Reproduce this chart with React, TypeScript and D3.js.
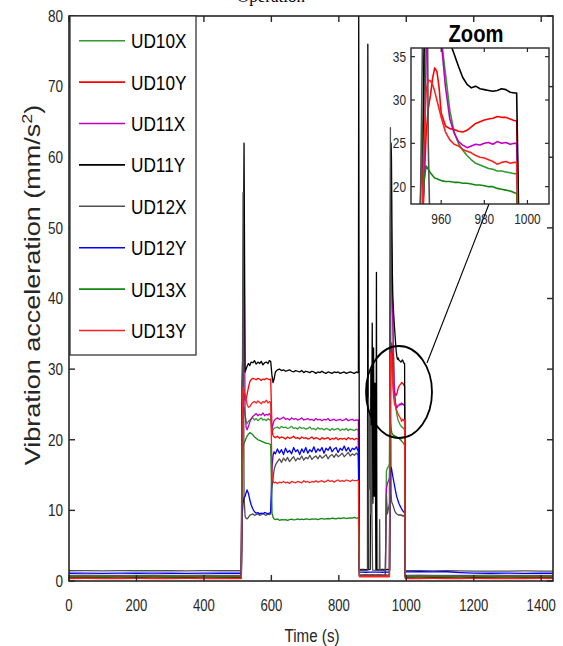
import React from 'react';
import * as d3 from 'd3';

// Shared sample times (s) for each operating phase
const T_IDLE_A = [0, 50, 100, 150, 200, 250, 300, 350, 400, 450, 500, 511];
const T_P1 = [513, 516, 519, 522, 525, 528, 532, 536, 540, 545, 550, 555, 560, 565, 570, 575, 580, 585, 590, 594, 598];
const T_P2 = [602, 605, 608, 612, 618, 624, 630, 636, 642, 648, 654, 660, 666, 672, 678, 684, 690, 696, 702, 708, 714, 720, 726, 732, 738, 744, 750, 756, 762, 768, 774, 780, 786, 792, 798, 804, 810, 816, 822, 828, 834, 840, 846, 852, 856, 858];
const T_GAP = [861, 870, 880, 890, 900, 910, 920, 930, 938];
const T_GAP_K = [859, 861, 870, 880, 885, 886, 887.5, 893, 895, 897, 899, 901, 903, 905, 907, 909, 910, 911.5, 913, 920, 930, 938];
const T_GAP_G = [861, 870, 880, 886, 888, 890, 892, 894, 896, 898, 900, 915, 920, 921, 922, 930, 938];
const T_P3 = [941, 944, 947, 950, 951, 952, 953, 954, 955, 956, 957, 958, 959, 960, 962, 964, 966, 968, 970, 972, 974, 976, 978, 980, 982, 984, 986, 988, 990, 992, 994, 995];
const T_IDLE_B = [997, 1040, 1080, 1120, 1160, 1200, 1250, 1300, 1350, 1400, 1435];
const PHASE_TIMES = [T_IDLE_A, T_P1, T_P2, T_GAP, T_P3, T_IDLE_B];

// Axis ticks
const X_TICKS = [0, 200, 400, 600, 800, 1000, 1200, 1400];
const Y_TICKS = [0, 10, 20, 30, 40, 50, 60, 70, 80];
const ZOOM_X_TICKS = [960, 980, 1000];
const ZOOM_Y_TICKS = [20, 25, 30, 35];

// Vibration acceleration (mm/s^2) per phase: idle, run 1, run 2, stop, run 3, idle
const UD10X = [
  [0.8, 0.82, 0.79, 0.81, 0.8, 0.83, 0.8, 0.79, 0.82, 0.8, 0.81, 0.8],
  [18.0, 24.0, 24.6, 23.5, 22.6, 22.3, 22.6, 22.8, 22.9, 23.1, 22.8, 23.0, 22.7, 22.9, 23.1, 22.8, 22.9, 22.7, 23.0, 22.8, 22.9],
  [21.0, 21.4, 21.6, 21.7, 21.8, 21.6, 21.9, 21.7, 21.8, 21.6,
   21.7, 21.9, 21.6, 21.7, 21.5, 21.8, 21.6, 21.7, 21.5, 21.6,
   21.8, 21.5, 21.6, 21.4, 21.7, 21.5, 21.6, 21.4, 21.6, 21.5,
   21.3, 21.6, 21.4, 21.5, 21.6, 21.3, 21.5, 21.4, 21.6, 21.3,
   21.5, 21.4, 21.3, 21.5, 21.4, 21.4],
  [0.9, 0.85, 0.9, 0.88, 0.9, 0.86, 0.9, 0.88, 0.9],
  [15.5, 16.0, 16.2, 16.5, 22.0, 32.0, 42.0, 48.0, 52.6, 50.0,
   46.0, 42.0, 39.0, 37.2, 33.0, 28.8, 26.3, 25.0, 24.2, 23.6,
   23.1, 22.7, 22.5, 22.3, 22.1, 22.0, 21.8, 21.8, 21.7, 21.6,
   21.5, 21.5],
  [0.8, 0.82, 0.8, 0.79, 0.81, 0.8, 0.82, 0.8, 0.79, 0.81, 0.8],
];

const UD10Y = [
  [0.45, 0.46, 0.44, 0.45, 0.47, 0.45, 0.44, 0.46, 0.45, 0.44, 0.46, 0.45],
  [24.0, 26.5, 27.0, 25.6, 25.8, 26.4, 27.4, 28.2, 28.5, 28.7, 28.6, 28.5, 28.7, 28.6, 28.4, 28.6, 28.5, 28.7, 28.6, 28.5, 28.6],
  [21.2, 20.6, 20.4, 20.3, 20.5, 20.2, 20.4, 20.3, 20.1, 20.4,
   20.2, 20.3, 20.5, 20.2, 20.3, 20.1, 20.4, 20.2, 20.3, 20.1,
   20.2, 20.4, 20.1, 20.3, 20.2, 20.0, 20.3, 20.1, 20.2, 20.3,
   20.0, 20.2, 20.1, 20.3, 20.0, 20.2, 20.1, 20.2, 20.0, 20.3,
   20.1, 20.2, 20.0, 20.2, 20.1, 20.1],
  [0.85, 0.83, 0.86, 0.84, 0.85, 0.83, 0.86, 0.84, 0.85],
  [0.85, 0.84, 0.86, 0.85, 12.0, 20.0, 26.0, 29.0, 30.5, 32.5,
   33.7, 33.3, 31.5, 28.5, 27.0, 26.7, 26.6, 26.4, 26.3, 26.5,
   26.9, 27.3, 27.5, 27.7, 27.8, 27.9, 28.1, 28.0, 28.0, 27.8,
   27.6, 27.6],
  [0.45, 0.44, 0.46, 0.45, 0.44, 0.46, 0.45, 0.44, 0.45, 0.46, 0.45],
];

const UD11X = [
  [0.7, 0.72, 0.69, 0.71, 0.7, 0.72, 0.7, 0.69, 0.71, 0.7, 0.72, 0.7],
  [20.0, 30.0, 50.0, 24.0, 21.8, 21.4, 21.9, 22.5, 23.0, 23.3, 23.5, 23.7, 23.4, 23.6, 23.5, 23.8, 23.4, 23.6, 23.5, 23.7, 23.4],
  [21.6, 22.2, 22.7, 22.9, 23.1, 22.9, 23.0, 23.2, 22.9, 23.0,
   22.8, 23.1, 22.9, 23.0, 22.8, 22.9, 23.1, 22.8, 22.9, 23.0,
   22.8, 22.9, 22.7, 23.0, 22.8, 22.9, 22.7, 22.9, 22.8, 23.0,
   22.7, 22.8, 22.9, 22.7, 22.8, 22.9, 22.7, 22.8, 23.0, 22.7,
   22.8, 22.9, 22.7, 22.8, 22.8, 22.8],
  [0.75, 0.74, 0.76, 0.75, 0.74, 0.76, 0.75, 0.74, 0.75],
  [13.0, 13.8, 14.2, 14.5, 16.0, 20.0, 35.0, 45.0, 49.3, 48.0,
   44.0, 40.5, 38.0, 36.8, 31.5, 27.8, 26.2, 25.2, 24.8, 24.5,
   24.7, 24.9, 24.8, 25.0, 25.1, 24.9, 25.2, 25.0, 25.1, 24.9,
   25.0, 25.0],
  [0.7, 0.71, 0.69, 0.7, 0.72, 0.7, 0.69, 0.71, 0.7, 0.72, 0.7],
];

const UD11Y = [
  [0.6, 0.62, 0.59, 0.61, 0.6, 0.62, 0.6, 0.59, 0.61, 0.6, 0.62, 0.6],
  [28.0, 33.5, 62.0, 29.6, 30.0, 30.4, 30.8, 30.5, 31.0, 30.9, 31.2, 30.7, 31.0, 30.8, 31.1, 30.6, 30.9, 31.0, 30.8, 31.2, 31.1],
  [29.0, 28.1, 28.6, 29.6, 29.9, 30.0, 29.8, 29.9, 29.7, 29.8,
   29.9, 29.7, 29.6, 29.8, 29.7, 29.6, 29.8, 29.5, 29.7, 29.6,
   29.5, 29.7, 29.6, 29.4, 29.6, 29.5, 29.7, 29.5, 29.4, 29.6,
   29.5, 29.4, 29.6, 29.5, 29.6, 29.4, 29.5, 29.6, 29.4, 29.5,
   29.6, 29.5, 29.4, 29.6, 29.5, 29.5],
  [80, 1.6, 1.65, 1.6, 1.65, 76, 1.6, 1.65, 30, 11.5, 36.5, 11, 33, 12, 28, 10.8, 1.6, 43.7, 1.65, 1.6, 1.65, 1.6],
  [1.6, 1.65, 1.6, 1.65, 1.6, 35.0, 50.0, 58.0, 62.0, 60.0,
   54.0, 47.0, 43.0, 40.5, 38.3, 36.7, 35.3, 33.9, 32.6, 31.8,
   31.4, 31.6, 31.3, 31.2, 31.1, 31.0, 31.1, 31.3, 31.2, 30.9,
   30.8, 30.8],
  [0.6, 0.61, 0.59, 0.6, 0.62, 0.6, 0.59, 0.61, 0.6, 0.62, 0.6],
];

const UD12X = [
  [1.45, 1.47, 1.44, 1.46, 1.45, 1.48, 1.45, 1.44, 1.46, 1.45, 1.47, 1.45],
  [10.0, 55.0, 12.0, 9.2, 8.9, 8.8, 9.0, 9.3, 9.4, 9.5, 9.3, 9.4, 9.5, 9.3, 9.4, 9.6, 9.4, 9.3, 9.5, 9.4, 9.5],
  [13.2, 14.6, 15.7, 16.4, 16.9, 17.3, 16.8, 17.4, 17.0, 17.5,
   16.9, 17.3, 17.6, 17.0, 17.4, 17.2, 17.7, 17.1, 17.5, 17.3,
   17.8, 17.2, 17.5, 17.7, 17.3, 17.8, 17.4, 17.6, 17.9, 17.3,
   17.7, 17.9, 17.5, 18.0, 17.6, 17.8, 18.1, 17.6, 17.9, 18.2,
   17.7, 18.0, 17.8, 18.1, 17.9, 18.0],
  [1.5, 1.55, 1.5, 1.55, 26, 13, 24, 9.5, 22, 10, 1.55, 1.5, 1.55, 8.7, 1.5, 1.55, 1.5],
  [12.3, 9.5, 10.2, 11.0, 30.0, 52.0, 64.2, 25.0, 12.5, 11.5,
   11.2, 11.0, 10.9, 10.8, 10.5, 10.2, 9.9, 9.7, 9.6, 9.5,
   9.4, 9.4, 9.3, 9.4, 9.3, 9.4, 9.3, 9.2, 9.3, 9.2,
   9.3, 9.3],
  [1.45, 1.46, 1.44, 1.45, 1.42, 1.4, 1.41, 1.4, 1.42, 1.41, 1.4],
];

const UD12Y = [
  [1.1, 1.12, 1.09, 1.11, 1.1, 1.12, 1.1, 1.09, 1.11, 1.1, 1.12, 1.1],
  [9.0, 11.0, 11.8, 12.0, 12.5, 12.9, 12.4, 11.5, 10.8, 10.2, 9.8, 9.6, 9.7, 9.5, 9.6, 9.5, 9.7, 9.6, 9.5, 9.6, 9.7],
  [16.2, 17.8, 18.3, 18.0, 18.7, 18.1, 18.6, 17.9, 18.8, 18.2,
   18.5, 18.0, 18.9, 18.3, 18.6, 17.9, 18.7, 18.2, 18.9, 18.1,
   18.6, 18.3, 19.0, 18.2, 18.7, 18.4, 18.9, 18.1, 18.8, 18.5,
   19.0, 18.3, 18.7, 18.9, 18.2, 18.8, 18.5, 19.1, 18.4, 18.9,
   18.3, 18.8, 18.6, 19.0, 18.5, 18.7],
  [1.25, 1.27, 1.24, 1.26, 1.25, 1.27, 1.25, 1.24, 1.26],
  [1.25, 1.26, 1.25, 1.27, 9.0, 13.0, 15.0, 15.8, 16.1, 16.0,
   15.7, 15.4, 15.1, 14.8, 14.3, 13.8, 13.3, 12.8, 12.3, 11.9,
   11.6, 11.3, 11.0, 10.8, 10.6, 10.4, 10.2, 10.1, 9.9, 9.8,
   9.7, 9.7],
  [1.3, 1.32, 1.29, 1.31, 1.2, 1.12, 1.1, 1.11, 1.09, 1.1, 1.1],
];

const UD13X = [
  [0.65, 0.66, 0.64, 0.65, 0.67, 0.65, 0.64, 0.66, 0.65, 0.64, 0.66, 0.65],
  [15.0, 19.0, 19.6, 19.8, 20.2, 20.5, 20.8, 21.0, 20.9, 20.7, 20.4, 20.2, 20.0, 19.9, 19.8, 19.7, 19.6, 19.5, 19.5, 19.4, 19.3],
  [9.6, 9.0, 8.8, 8.7, 8.8, 8.6, 8.7, 8.65, 8.7, 8.6,
   8.7, 8.75, 8.65, 8.7, 8.8, 8.7, 8.75, 8.7, 8.8, 8.75,
   8.7, 8.8, 8.75, 8.8, 8.7, 8.8, 8.85, 8.75, 8.8, 8.85,
   8.8, 8.9, 8.85, 8.8, 8.9, 8.85, 8.9, 8.95, 8.85, 8.9,
   8.95, 8.9, 9.0, 8.9, 8.95, 9.0],
  [0.7, 0.72, 0.69, 0.71, 0.7, 0.72, 0.7, 0.69, 0.71],
  [0.7, 0.71, 0.7, 0.72, 14.0, 20.5, 22.4, 22.0, 21.6, 21.3,
   21.0, 20.9, 20.8, 20.7, 20.6, 20.6, 20.5, 20.5, 20.4, 20.4,
   20.3, 20.2, 20.2, 20.1, 20.0, 20.0, 19.8, 19.7, 19.6, 19.5,
   19.3, 19.2],
  [0.65, 0.64, 0.66, 0.65, 0.64, 0.66, 0.65, 0.64, 0.65, 0.66, 0.65],
];

const UD13Y = [
  [0.35, 0.36, 0.34, 0.35, 0.37, 0.35, 0.34, 0.36, 0.35, 0.34, 0.36, 0.35],
  [22.0, 27.5, 26.8, 26.5, 25.8, 25.0, 24.6, 24.7, 25.0, 25.3, 25.4, 25.2, 25.5, 25.3, 25.1, 25.4, 25.3, 25.6, 25.2, 25.4, 25.3],
  [15.0, 14.1, 13.9, 14.0, 13.8, 14.0, 13.9, 14.1, 13.9, 14.0,
   13.8, 14.1, 14.0, 13.9, 14.1, 14.0, 13.9, 14.2, 14.0, 14.1,
   13.9, 14.1, 14.0, 14.2, 14.0, 14.1, 14.2, 14.0, 14.1, 14.3,
   14.1, 14.2, 14.0, 14.2, 14.3, 14.1, 14.2, 14.1, 14.3, 14.2,
   14.1, 14.3, 14.2, 14.2, 14.3, 14.2],
  [0.6, 0.62, 0.59, 0.61, 0.6, 0.62, 0.6, 0.59, 0.61],
  [0.6, 0.61, 0.6, 0.62, 15.0, 25.0, 31.0, 32.3, 32.2, 31.8,
   31.0, 30.0, 29.0, 28.0, 26.3, 25.4, 24.9, 24.7, 24.3, 24.1,
   23.9, 23.6, 23.4, 23.3, 23.1, 22.9, 22.6, 22.8, 22.9, 22.7,
   22.8, 22.8],
  [0.35, 0.34, 0.36, 0.35, 0.34, 0.36, 0.35, 0.34, 0.35, 0.36, 0.35],
];

const SERIES_NAMES = ['UD10X', 'UD10Y', 'UD11X', 'UD11Y', 'UD12X', 'UD12Y', 'UD13X', 'UD13Y'];
const SERIES_VALUES = [UD10X, UD10Y, UD11X, UD11Y, UD12X, UD12Y, UD13X, UD13Y];
const SERIES_GAP_TIMES = [T_GAP, T_GAP, T_GAP, T_GAP_K, T_GAP_G, T_GAP, T_GAP, T_GAP];
const SERIES_COLORS = ['#2f9a2f', '#ff0000', '#c000c0', '#000000', '#505050', '#0000ff', '#138613', '#ff2020'];

function toPoints(segments: number[][], gapTimes: number[]): [number, number][] {
  const pts: [number, number][] = [];
  segments.forEach((vals, i) => {
    const ts = i === 3 ? gapTimes : PHASE_TIMES[i];
    const n = Math.min(ts.length, vals.length);
    for (let j = 0; j < n; j++) pts.push([ts[j], vals[j]]);
  });
  return pts;
}

const W = 563;
const H = 646;
const FONT = 'Liberation Sans, Arial, Helvetica, sans-serif';
const NARROW = 0.82;
const AXIS_COLOR = '#262626';

// Main plot box
const PL = 69, PR = 553, PT = 16, PB = 581;
// Zoom inset box
const ZL = 411, ZR = 549, ZT = 48, ZB = 204;

export default function App() {
  const x = d3.scaleLinear().domain([0, 1435]).range([PL, PR]);
  const y = d3.scaleLinear().domain([0, 80]).range([PB, PT]);
  const xz = d3.scaleLinear().domain([946, 1010]).range([ZL, ZR]);
  const yz = d3.scaleLinear().domain([18, 36]).range([ZB, ZT]);

  const data = SERIES_NAMES.map((name, i) => ({
    name,
    color: SERIES_COLORS[i],
    points: toPoints(SERIES_VALUES[i], SERIES_GAP_TIMES[i]),
  }));

  const mainLine = d3.line<[number, number]>().x((d) => x(d[0])).y((d) => y(d[1]));
  const zoomLine = d3.line<[number, number]>().x((d) => xz(d[0])).y((d) => yz(d[1]));

  const tick = 6;
  const narrowText = (tx: number, ty: number, s = NARROW) => `translate(${tx},${ty}) scale(${s},1)`;

  const legendTop = 16;
  const legendRowY = (i: number) => 40.7 + i * 41.4;

  return (
    <svg width={W} height={H} style={{ position: 'absolute', left: 0, top: 0, background: '#fff' }}>
      <defs>
        <clipPath id="plotClip">
          <rect x={PL} y={PT} width={PR - PL} height={PB - PT} />
        </clipPath>
        <clipPath id="zoomClip">
          <rect x={ZL} y={ZT} width={ZR - ZL} height={ZB - ZT} />
        </clipPath>
      </defs>
      <rect x={0} y={0} width={W} height={H} fill="#fff" />

      {/* title, mostly above the page edge */}
      <text x={237} y={2} fontFamily="Liberation Serif, Times New Roman, serif" fontSize={17} fill="#000">
        Operation
      </text>

      {/* data lines */}
      <g clipPath="url(#plotClip)">
        {data.map((s) => (
          <path key={s.name} d={mainLine(s.points) || ''} fill="none" stroke={s.color} strokeWidth={1.3} strokeLinejoin="round" />
        ))}
      </g>

      {/* axes box and ticks */}
      <rect x={PL} y={PT} width={PR - PL} height={PB - PT} fill="none" stroke={AXIS_COLOR} strokeWidth={1.6} />
      {X_TICKS.map((t) => (
        <g key={'xt' + t}>
          <line x1={x(t)} x2={x(t)} y1={PB} y2={PB - tick} stroke={AXIS_COLOR} strokeWidth={1.4} />
          <line x1={x(t)} x2={x(t)} y1={PT} y2={PT + tick} stroke={AXIS_COLOR} strokeWidth={1.4} />
          <text transform={narrowText(x(t), 611)} textAnchor="middle" fontFamily={FONT} fontSize={16} fill={AXIS_COLOR}>
            {t}
          </text>
        </g>
      ))}
      {Y_TICKS.map((t) => (
        <g key={'yt' + t}>
          <line x1={PL} x2={PL + tick} y1={y(t)} y2={y(t)} stroke={AXIS_COLOR} strokeWidth={1.4} />
          <line x1={PR} x2={PR - tick} y1={y(t)} y2={y(t)} stroke={AXIS_COLOR} strokeWidth={1.4} />
          <text transform={narrowText(63, y(t) + 5.8)} textAnchor="end" fontFamily={FONT} fontSize={16.5} fill={AXIS_COLOR}>
            {t}
          </text>
        </g>
      ))}

      {/* axis titles */}
      <text transform={narrowText(312, 642)} textAnchor="middle" fontFamily={FONT} fontSize={18.5} fill={AXIS_COLOR}>
        Time (s)
      </text>
      <text
        transform={`translate(40,285) rotate(-90) scale(1,${NARROW})`}
        textAnchor="middle"
        fontFamily={FONT}
        fontSize={27}
        fill={AXIS_COLOR}
      >
        Vibration acceleration (mm/s
        <tspan dy={-10} fontSize={18}>2</tspan>
        <tspan dy={10}>)</tspan>
      </text>

      {/* legend */}
      <rect x={70} y={legendTop} width={126} height={339} fill="#fff" stroke={AXIS_COLOR} strokeWidth={1.2} />
      {data.map((s, i) => (
        <g key={'lg' + s.name}>
          <line x1={79} x2={125} y1={legendRowY(i)} y2={legendRowY(i)} stroke={s.color} strokeWidth={1.6} />
          <text transform={narrowText(131, legendRowY(i) + 7.5)} fontFamily={FONT} fontSize={21} fill="#000">
            {s.name}
          </text>
        </g>
      ))}

      {/* highlighted region and connector */}
      <ellipse cx={399} cy={392} rx={33} ry={46} fill="none" stroke="#000" strokeWidth={1.8} />
      <line x1={427} y1={363} x2={489} y2={ZB} stroke="#000" strokeWidth={1.1} />

      {/* zoom inset */}
      <rect x={ZL} y={ZT} width={ZR - ZL} height={ZB - ZT} fill="#fff" />
      <g clipPath="url(#zoomClip)">
        {data.map((s) => (
          <path key={'z' + s.name} d={zoomLine(s.points) || ''} fill="none" stroke={s.color} strokeWidth={1.6} strokeLinejoin="round" />
        ))}
      </g>
      <rect x={ZL} y={ZT} width={ZR - ZL} height={ZB - ZT} fill="none" stroke={AXIS_COLOR} strokeWidth={1.4} />
      {ZOOM_X_TICKS.map((t) => (
        <g key={'zx' + t}>
          <line x1={xz(t)} x2={xz(t)} y1={ZB} y2={ZB - 4} stroke={AXIS_COLOR} strokeWidth={1.2} />
          <line x1={xz(t)} x2={xz(t)} y1={ZT} y2={ZT + 4} stroke={AXIS_COLOR} strokeWidth={1.2} />
          <text transform={narrowText(xz(t), 224)} textAnchor="middle" fontFamily={FONT} fontSize={14.5} fill={AXIS_COLOR}>
            {t}
          </text>
        </g>
      ))}
      {ZOOM_Y_TICKS.map((t) => (
        <g key={'zy' + t}>
          <line x1={ZL} x2={ZL + 4} y1={yz(t)} y2={yz(t)} stroke={AXIS_COLOR} strokeWidth={1.2} />
          <line x1={ZR} x2={ZR - 4} y1={yz(t)} y2={yz(t)} stroke={AXIS_COLOR} strokeWidth={1.2} />
          <text transform={narrowText(406, yz(t) + 5)} textAnchor="end" fontFamily={FONT} fontSize={14.5} fill={AXIS_COLOR}>
            {t}
          </text>
        </g>
      ))}
      <text transform={narrowText(476, 42, 0.86)} textAnchor="middle" fontFamily={FONT} fontWeight="bold" fontSize={23.5} fill="#000">
        Zoom
      </text>
    </svg>
  );
}
